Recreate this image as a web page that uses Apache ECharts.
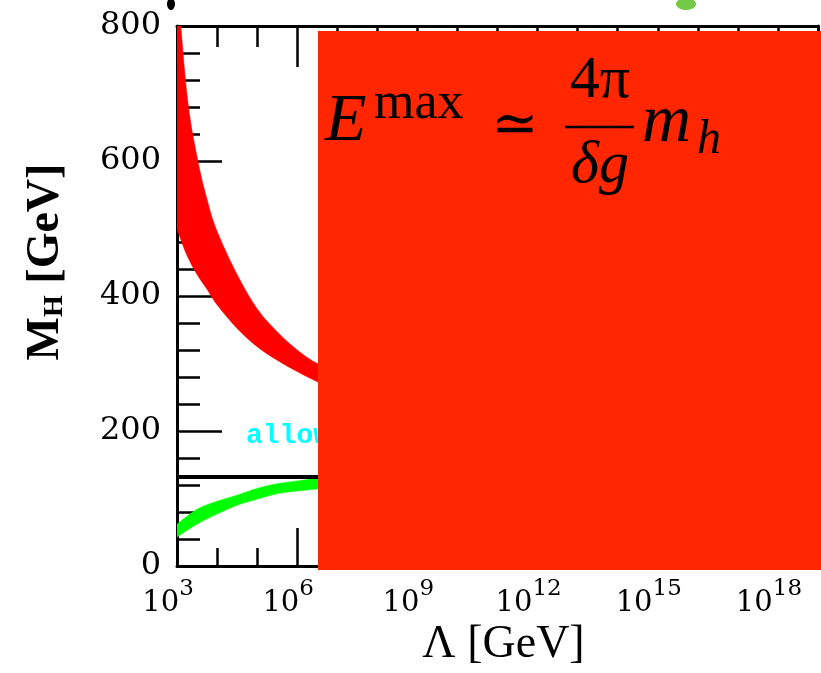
<!DOCTYPE html>
<html>
<head>
<meta charset="utf-8">
<script src="https://cdn.jsdelivr.net/npm/echarts@6/dist/echarts.min.js"></script>
<style>
  html, body { margin: 0; padding: 0; background: #ffffff; }
  #chart { width: 821px; height: 673px; }
</style>
</head>
<body>
<div id="chart"></div>
<script>
// Cutoff scale is plotted as log10(Λ / GeV)
const xLogMin = 3;
const xLogMax = 19;
const xLabelExponents = [3, 6, 9, 12, 15, 18];

// Higgs mass axis [GeV]
const yMin = 0;
const yMax = 800;
const yStep = 200;

// Triviality (upper) bound band
const redLogLambda = [3, 3.25, 3.5, 3.75, 4, 4.5, 5, 5.5, 6, 6.5, 7];
const redUpper = [870, 698, 606, 543, 496, 432, 381, 347, 320, 300, 290];
const redLower = [499, 460, 432, 410, 387, 352, 325, 305, 288, 273, 262];

// Vacuum stability (lower) bound band
const greenLogLambda = [3, 3.5, 4, 4.5, 5, 5.5, 6, 6.5, 7];
const greenUpper = [62, 84, 96, 105, 115, 122, 126, 130, 132];
const greenLower = [43, 62, 77, 90, 99, 107, 111, 114, 116];

// Horizontal reference mass line
const refLineLogLambda = [3, 19];
const refLineMass = [132, 132];

const regionLabel = 'allowed region';

const chart = echarts.init(document.getElementById('chart'), null, { renderer: 'canvas' });

const pairs = (xs, ys) => xs.map((x, i) => [x, ys[i]]);
const rows = (xs, hi, lo) => xs.map((x, i) => [x, hi[i], lo[i]]);

// Smooth curve through pixel points (Catmull-Rom as cubic Bezier segments)
function curveTo(pts) {
  let d = '';
  for (let i = 0; i < pts.length - 1; i++) {
    const p0 = pts[i - 1] || pts[i];
    const p1 = pts[i];
    const p2 = pts[i + 1];
    const p3 = pts[i + 2] || pts[i + 1];
    const c1 = [p1[0] + (p2[0] - p0[0]) / 6, p1[1] + (p2[1] - p0[1]) / 6];
    const c2 = [p2[0] - (p3[0] - p1[0]) / 6, p2[1] - (p3[1] - p1[1]) / 6];
    d += ' C' + c1[0] + ',' + c1[1] + ' ' + c2[0] + ',' + c2[1] + ' ' + p2[0] + ',' + p2[1];
  }
  return d;
}

// Filled band between an upper and a lower curve, drawn once per series
function bandSeries(name, xs, hi, lo, color) {
  const data = rows(xs, hi, lo);
  return {
    name: name, type: 'custom', xAxisIndex: 0, yAxisIndex: 0, z: 3, clip: true,
    encode: { x: 0, y: [1, 2] },
    data: data,
    renderItem: function (params, api) {
      if (params.dataIndex !== 0) return null;
      const top = data.map(r => api.coord([r[0], r[1]]));
      const bottom = data.map(r => api.coord([r[0], r[2]])).reverse();
      const pathData = 'M' + top[0][0] + ',' + top[0][1] + curveTo(top) +
        ' L' + bottom[0][0] + ',' + bottom[0][1] + curveTo(bottom) + ' Z';
      const cs = params.coordSys;
      return {
        type: 'path',
        shape: { pathData: pathData },
        style: { fill: color, stroke: color, lineWidth: 0.5 },
        clipPath: { type: 'rect', shape: { x: cs.x, y: cs.y, width: cs.width, height: cs.height } }
      };
    }
  };
}

const frameLine = { show: true, lineStyle: { color: '#000', width: 3 } };
const tickLine = { color: '#000', width: 2.5 };

function xAxisDef(position, interval, tickLen, showLine, showLabel) {
  return {
    type: 'value', gridIndex: 0, position: position,
    min: xLogMin, max: xLogMax, interval: interval,
    axisLine: showLine ? frameLine : { show: false },
    axisTick: { show: true, inside: true, length: tickLen, lineStyle: tickLine },
    splitLine: { show: false },
    axisLabel: showLabel ? {
      show: true, margin: 12, padding: [0, 18, 0, 0],
      formatter: v => (xLabelExponents.indexOf(v) >= 0 ? '{b|10}{s|' + v + '}' : ''),
      rich: {
        b: { fontFamily: 'DejaVu Serif', fontSize: 29, color: '#000', lineHeight: 40, verticalAlign: 'bottom' },
        s: { fontFamily: 'DejaVu Serif', fontSize: 23, color: '#000', lineHeight: 40, verticalAlign: 'top' }
      }
    } : { show: false }
  };
}

function yAxisDef(position, showLabel) {
  return {
    type: 'value', gridIndex: 0, position: position,
    min: yMin, max: yMax, interval: yStep,
    axisLine: frameLine,
    axisTick: { show: true, inside: true, length: 45, lineStyle: tickLine },
    minorTick: { show: true, splitNumber: 5, length: 23, lineStyle: tickLine },
    splitLine: { show: false },
    axisLabel: showLabel ? {
      show: true, margin: 16, fontFamily: 'DejaVu Serif', fontSize: 32, color: '#000'
    } : { show: false }
  };
}

const xMain = xAxisDef('bottom', 1, 18, true, false);
xMain.name = 'Λ [GeV]';
xMain.nameLocation = 'middle';
xMain.nameGap = 56;
xMain.nameTextStyle = { fontFamily: 'Liberation Serif', fontSize: 46, color: '#000', padding: [0, 0, 0, 12] };

const yMain = yAxisDef('left', true);
yMain.name = '{m|M}{h|H}{m| [GeV]}';
yMain.nameLocation = 'middle';
yMain.nameGap = 108;
yMain.nameTextStyle = {
  padding: [0, 0, 0, 68],
  rich: {
    m: { fontFamily: 'Liberation Serif', fontWeight: 'bold', fontSize: 46, color: '#000', verticalAlign: 'bottom', lineHeight: 52 },
    h: { fontFamily: 'Liberation Serif', fontWeight: 'bold', fontSize: 28, color: '#000', verticalAlign: 'bottom', lineHeight: 42 }
  }
};

const option = {
  animation: false,
  backgroundColor: '#ffffff',
  grid: { left: 177, top: 26, width: 646, height: 542, containLabel: false },
  xAxis: [
    xMain,
    xAxisDef('bottom', 3, 38, false, true),
    xAxisDef('top', 1, 21, true, false),
    xAxisDef('top', 3, 41, false, false)
  ],
  yAxis: [
    yMain,
    yAxisDef('right', false)
  ],
  series: [
    bandSeries('triviality', redLogLambda, redUpper, redLower, '#ff0000'),
    bandSeries('stability', greenLogLambda, greenUpper, greenLower, '#00ff00'),
    {
      name: 'reference', type: 'line', showSymbol: false, xAxisIndex: 0, yAxisIndex: 0,
      lineStyle: { color: '#000', width: 4 },
      data: pairs(refLineLogLambda, refLineMass), z: 4
    }
  ],
  graphic: [
    {
      type: 'text', left: 246, top: 422, z: 50,
      style: { text: regionLabel, fill: '#00ffff', font: 'bold 28px "Liberation Mono"' }
    },
    {
      type: 'rect', shape: { x: 318, y: 31, width: 520, height: 539 }, z: 100,
      style: { fill: '#ff2600' }
    },
    {
      type: 'text', x: 325, y: 122, z: 101,
      style: { text: 'E', fill: '#000', font: 'italic 68px "Liberation Serif"', verticalAlign: 'middle' }
    },
    {
      type: 'text', x: 374, y: 104, z: 101,
      style: { text: 'max', fill: '#000', font: '52px "Liberation Serif"', verticalAlign: 'middle' }
    },
    {
      type: 'text', x: 515, y: 127, z: 101,
      style: { text: '≃', fill: '#000', font: '56px "DejaVu Serif"', align: 'center', verticalAlign: 'middle' }
    },
    {
      type: 'text', x: 600, y: 81, z: 101,
      style: { text: '4π', fill: '#000', font: '60px "Liberation Serif"', align: 'center', verticalAlign: 'middle' }
    },
    {
      type: 'line', shape: { x1: 565, y1: 127, x2: 634, y2: 127 }, z: 101,
      style: { stroke: '#000', lineWidth: 2.5 }
    },
    {
      type: 'text', x: 600, y: 166, z: 101,
      style: { text: 'δg', fill: '#000', font: 'italic 60px "Liberation Serif"', align: 'center', verticalAlign: 'middle' }
    },
    {
      type: 'text', x: 642, y: 123, z: 101,
      style: { text: 'm', fill: '#000', font: 'italic 68px "Liberation Serif"', verticalAlign: 'middle' }
    },
    {
      type: 'text', x: 697, y: 140, z: 101,
      style: { text: 'h', fill: '#000', font: 'italic 48px "Liberation Serif"', verticalAlign: 'middle' }
    },
    {
      type: 'ellipse', shape: { cx: 171, cy: 4, rx: 4, ry: 6 }, z: 101,
      style: { fill: '#000' }
    },
    {
      type: 'ellipse', shape: { cx: 686, cy: 4, rx: 10, ry: 6 }, z: 101,
      style: { fill: '#74c947' }
    }
  ]
};

chart.setOption(option);
</script>
</body>
</html>
